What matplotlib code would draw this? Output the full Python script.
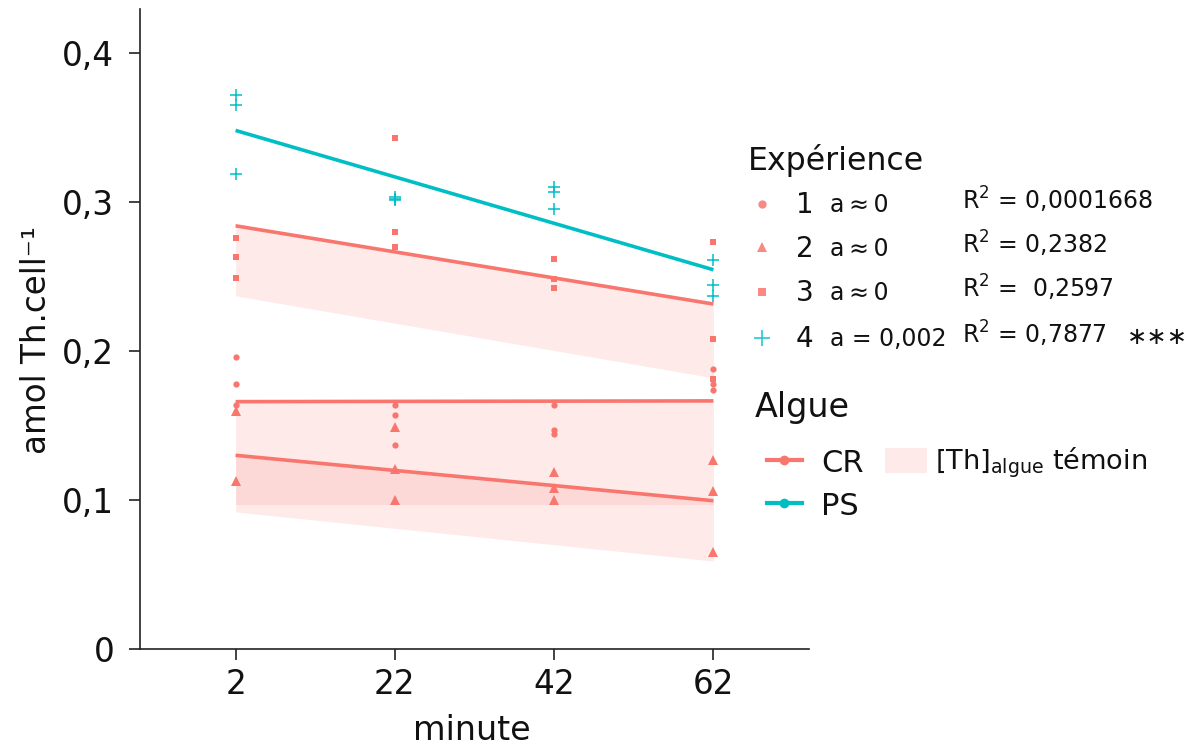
import numpy as np
import matplotlib
matplotlib.use("Agg")
import matplotlib.pyplot as plt
from matplotlib.lines import Line2D
from matplotlib.patches import Rectangle

plt.rcParams['font.family'] = ['DejaVu Sans']
plt.rcParams['mathtext.fontset'] = 'dejavusans'

# ---------------- data ----------------
minutes = [2, 22, 42, 62]
ytick_values = [0, 0.1, 0.2, 0.3, 0.4]
ytick_labels = ["0", "0,1", "0,2", "0,3", "0,4"]

# measured values per minute (one list per time point)
exp1_values = [[0.196, 0.178, 0.164], [0.164, 0.157, 0.137],
               [0.164, 0.147, 0.144], [0.188, 0.178, 0.174]]
exp2_values = [[0.160, 0.113], [0.149, 0.121, 0.100],
               [0.119, 0.108, 0.100], [0.127, 0.106, 0.065]]
exp3_values = [[0.276, 0.263, 0.249], [0.343, 0.280, 0.270],
               [0.262, 0.248, 0.242], [0.273, 0.208, 0.181]]
exp4_values = [[0.372, 0.365, 0.319], [0.3035, 0.302, 0.3015],
               [0.310, 0.307, 0.295], [0.261, 0.244, 0.237]]

# fitted lines (value at first and last minute)
fit_minutes = [2, 62]
fit_exp1 = [0.166, 0.1665]
fit_exp2 = [0.130, 0.0995]
fit_exp3 = [0.284, 0.2315]
fit_exp4 = [0.348, 0.2545]

# control ranges [Th]algue témoin (lower edges; upper edges follow the fits)
ribbon_exp1_low = [0.097, 0.097]
ribbon_exp2_low = [0.092, 0.059]
ribbon_exp3_low = [0.237, 0.182]

legend_numbers = ["1", "2", "3", "4"]
legend_slopes = ["a\u2009\u2248\u20090", "a\u2009\u2248\u20090", "a\u2009\u2248\u20090", "a = 0,002"]
legend_r2 = ["R$^2$ = 0,0001668", "R$^2$ = 0,2382", "R$^2$ =  0,2597", "R$^2$ = 0,7877"]
algue_names = ["CR", "PS"]

RED = "#F8766D"
TEAL = "#00BFC4"

W, H = 1193, 747
fig = plt.figure(figsize=(W / 100, H / 100), dpi=100)
ax = fig.add_axes([140 / W, 1 - 649 / H, 669 / W, 640 / H])

# ribbons
ax.fill_between(fit_minutes, ribbon_exp3_low, fit_exp3, color=RED, alpha=0.15, lw=0, zorder=1)
ax.fill_between(fit_minutes, ribbon_exp1_low, fit_exp1, color=RED, alpha=0.15, lw=0, zorder=1)
ax.fill_between(fit_minutes, ribbon_exp2_low, fit_exp2, color=RED, alpha=0.15, lw=0, zorder=1)

# fit lines
for fit, col in [(fit_exp1, RED), (fit_exp2, RED), (fit_exp3, RED), (fit_exp4, TEAL)]:
    ax.plot(fit_minutes, fit, color=col, lw=2.6, solid_capstyle='butt', zorder=3)

# points
def scatter(values, **kw):
    xs, ys = [], []
    for m, vals in zip(minutes, values):
        xs += [m] * len(vals)
        ys += vals
    ax.plot(xs, ys, ls='none', zorder=4, **kw)

scatter(exp1_values, marker='o', ms=4.5, color=RED, mew=0)
scatter(exp2_values, marker='^', ms=6.5, color=RED, mew=0)
scatter(exp3_values, marker='s', ms=5, color=RED, mew=0)
scatter(exp4_values, marker='+', ms=9, color=TEAL, mew=1.1)

ax.set_xlim(-10, 74)
ax.set_ylim(0, 0.4295)
ax.set_xticks(minutes)
ax.set_xticklabels([str(m) for m in minutes])
ax.set_yticks(ytick_values)
ax.set_yticklabels(ytick_labels)
for s in ['top', 'right']:
    ax.spines[s].set_visible(False)
for s in ['left', 'bottom']:
    ax.spines[s].set_linewidth(1.2)
    ax.spines[s].set_color('#222222')
ax.tick_params(axis='both', labelsize=23.5, length=8, width=1.2, color='#222222',
               labelcolor='#111111')
ax.tick_params(axis='x', pad=6)
ax.tick_params(axis='y', pad=10.5)

# axis titles
fig.text(472 / W, 1 - 740 / H, "minute", fontsize=24, ha='center', va='baseline', color='#111111')
fig.text(37 / W, 1 - 340 / H, "amol Th.cell\u207b\u00b9", fontsize=23.5,
         rotation=90, ha='center', va='center', color='#111111')

# ---------------- legend (pixel overlay) ----------------
lg = fig.add_axes([0, 0, 1, 1], facecolor='none')
lg.set_xlim(0, W)
lg.set_ylim(H, 0)
lg.axis('off')

lg.text(748, 170, "Expérience", fontsize=22.7, ha='left', va='baseline', color='#111111')
row_marker_y = [204, 247, 292, 338]
row_base_y = [212, 256, 300, 346]
markers = [('o', 6, RED, 0), ('^', 7.5, RED, 0), ('s', 6, RED, 0), ('+', 12, TEAL, 1.2)]
for i in range(4):
    mk, ms, col, mew = markers[i]
    lg.plot([762], [row_marker_y[i]], marker=mk, ms=ms, color=col, mew=mew, ls='none', alpha=0.85)
    lg.text(796, row_base_y[i] + 1, legend_numbers[i], fontsize=20, ha='left', va='baseline', color='#111111')
    lg.text(830, row_base_y[i], legend_slopes[i], fontsize=17, ha='left', va='baseline', color='#111111')
    lg.text(962, row_base_y[i] - 2, legend_r2[i], fontsize=17, ha='left', va='baseline', color='#111111')
lg.text(1127, 344, "\u2217\u2217\u2217", fontsize=17.5, ha='left', va='baseline', color='#111111')

lg.text(755, 417, "Algue", fontsize=24, ha='left', va='baseline', color='#111111')
for name, col, yy in [(algue_names[0], RED, 460), (algue_names[1], TEAL, 503)]:
    lg.plot([767, 802], [yy, yy], color=col, lw=3)
    lg.plot([784], [yy], marker='o', ms=7, color=col, mew=0)
    lg.text(821, yy + 12, name, fontsize=22, ha='left', va='baseline', color='#111111')
lg.add_patch(Rectangle((885, 448), 42, 25, facecolor=RED, alpha=0.15, lw=0))
lg.text(935, 469, "[Th]$_{\\mathrm{algue}}$ témoin", fontsize=19.5, ha='left', va='baseline', color='#111111')

fig.savefig("out.png", dpi=100)
